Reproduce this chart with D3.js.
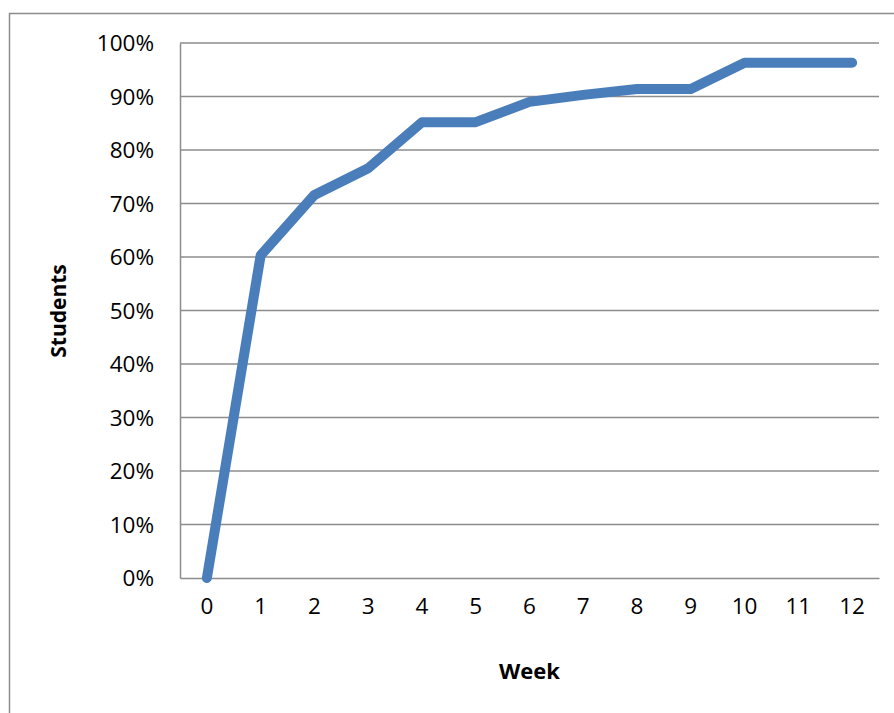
<!DOCTYPE html>
<html>
<head>
<meta charset="utf-8">
<script src="https://cdn.jsdelivr.net/npm/d3@7"></script>
<style>
  html, body { margin: 0; padding: 0; background: #fff; }
  svg { display: block; }
  text { font-family: "Open Sans", "Liberation Sans", sans-serif; fill: #000; }
</style>
</head>
<body>
<script>
// Cumulative share of students per week
const weeks = ["0", "1", "2", "3", "4", "5", "6", "7", "8", "9", "10", "11", "12"];
const students = [0, 0.603, 0.716, 0.766, 0.852, 0.852, 0.890, 0.903, 0.914, 0.914, 0.963, 0.963, 0.963];
const yTicks = [0, 0.1, 0.2, 0.3, 0.4, 0.5, 0.6, 0.7, 0.8, 0.9, 1.0];

const W = 894, H = 713;
const plot = { left: 180, top: 43, right: 879, bottom: 578 };

const svg = d3.select("body").append("svg")
  .attr("width", W).attr("height", H);

// outer chart frame
svg.append("rect")
  .attr("x", 9.5).attr("y", 13.5)
  .attr("width", W + 10).attr("height", H + 10)
  .attr("fill", "none").attr("stroke", "#8c8c8c").attr("stroke-width", 1.5);

const x = d3.scaleBand().domain(weeks)
  .range([plot.left, plot.right]).paddingInner(0).paddingOuter(0);
const y = d3.scaleLinear().domain([0, 1]).range([plot.bottom, plot.top]);

// horizontal gridlines
svg.append("g")
  .selectAll("line").data(yTicks.slice(1)).join("line")
  .attr("x1", plot.left).attr("x2", plot.right)
  .attr("y1", d => y(d)).attr("y2", d => y(d))
  .attr("stroke", "#8c8c8c").attr("stroke-width", 1.5);

// y axis
const yAxis = svg.append("g")
  .attr("transform", `translate(${plot.left},0)`)
  .call(d3.axisLeft(y).tickValues(yTicks).tickFormat(d3.format(".0%")).tickSize(0).tickPadding(26));
yAxis.select(".domain").attr("stroke", "#8c8c8c").attr("stroke-width", 1.5);
yAxis.selectAll("text").style("font-size", "22.5px").attr("dy", "0.35em");

// x axis
const xAxis = svg.append("g")
  .attr("transform", `translate(0,${plot.bottom})`)
  .call(d3.axisBottom(x).tickSize(0).tickPadding(36));
xAxis.select(".domain").attr("stroke", "#8c8c8c").attr("stroke-width", 1.5);
xAxis.selectAll("text").style("font-size", "22.5px").attr("dy", "0");

// axis titles
svg.append("text")
  .attr("x", 529.5).attr("y", 679)
  .attr("text-anchor", "middle")
  .style("font-size", "22px").style("font-weight", "bold")
  .text("Week");

svg.append("text")
  .attr("transform", "translate(66,311) rotate(-90)")
  .attr("text-anchor", "middle")
  .style("font-size", "21px").style("font-weight", "bold")
  .text("Students");

// data line
const line = d3.line()
  .x((d, i) => x(weeks[i]) + x.bandwidth() / 2)
  .y(d => y(d));

svg.append("path")
  .datum(students)
  .attr("d", line)
  .attr("fill", "none")
  .attr("stroke", "#4a7ebb")
  .attr("stroke-width", 10)
  .attr("stroke-linejoin", "round")
  .attr("stroke-linecap", "round");
</script>
</body>
</html>
